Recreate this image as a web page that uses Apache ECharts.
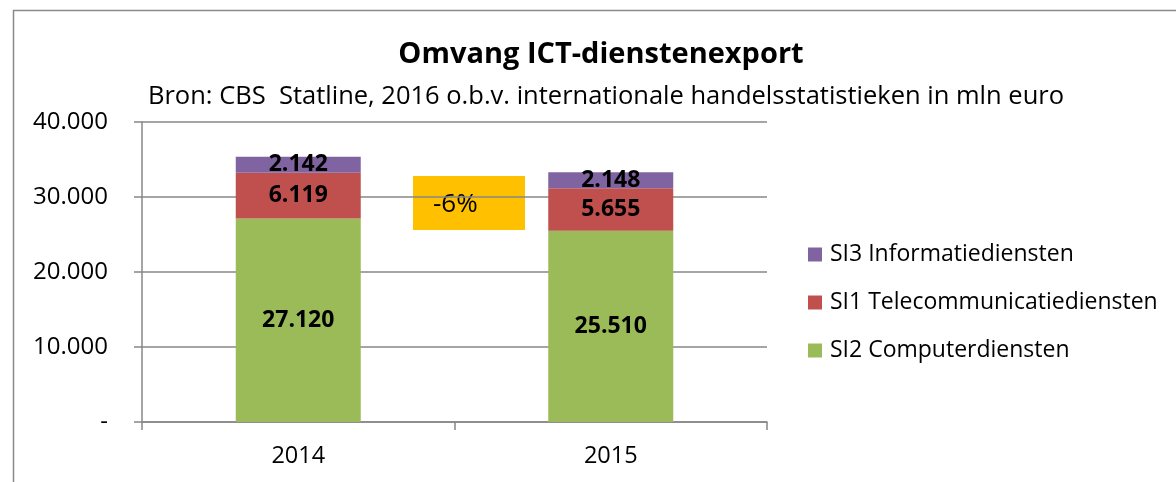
<!DOCTYPE html>
<html>
<head>
<meta charset="utf-8">
<script src="https://cdn.jsdelivr.net/npm/echarts@6/dist/echarts.min.js"></script>
<style>
  html, body { margin: 0; padding: 0; background: #fff; overflow: hidden; }
  #chart { width: 1176px; height: 482px; }
</style>
</head>
<body>
<div id="chart"></div>
<script>
// data (mln euro)
const years = ['2014', '2015'];
const computerdiensten = [27120, 25510];
const telecomdiensten = [6119, 5655];
const informatiediensten = [2142, 2148];
const yTicks = [0, 10000, 20000, 30000, 40000];
const changeLabel = '-6%';

const fontFam = '"Open Sans", Lato, sans-serif';

// 27120 -> 27.120
const fmt = (v) => v === 0 ? '-' : String(v).replace(/\B(?=(\d{3})+(?!\d))/g, '.');

const chart = echarts.init(document.getElementById('chart'));

const barLabel = {
  show: true,
  position: 'inside',
  color: '#000',
  fontWeight: 'bold',
  fontSize: 23,
  fontFamily: fontFam,
  formatter: (p) => fmt(p.value)
};

const option = {
  animation: false,
  textStyle: { fontFamily: fontFam },
  title: [
    {
      text: 'Omvang ICT-dienstenexport',
      left: 596,
      textAlign: 'center',
      top: 35,
      textStyle: { fontSize: 29, fontWeight: 'bold', color: '#000', fontFamily: fontFam }
    },
    {
      text: 'Bron: CBS  Statline, 2016 o.b.v. internationale handelsstatistieken in mln euro',
      left: 601,
      textAlign: 'center',
      top: 79,
      textStyle: { fontSize: 25.5, fontWeight: 'normal', color: '#000', fontFamily: fontFam }
    }
  ],
  legend: {
    orient: 'vertical',
    left: 803,
    top: 238,
    itemWidth: 14,
    itemHeight: 14,
    itemGap: 25,
    icon: 'rect',
    data: ['SI3 Informatiediensten', 'SI1 Telecommunicatiediensten', 'SI2 Computerdiensten'],
    textStyle: { fontSize: 23, color: '#000', fontFamily: fontFam, padding: [0, 0, 0, 3] }
  },
  grid: { left: 142, right: 409, top: 122, bottom: 60 },
  xAxis: {
    type: 'category',
    data: years,
    axisLine: { lineStyle: { color: '#878787', width: 1.5 } },
    axisTick: { show: true, length: 8, lineStyle: { color: '#878787', width: 1.5 } },
    axisLabel: { fontSize: 23.5, color: '#000', margin: 22, fontFamily: fontFam }
  },
  yAxis: {
    type: 'value',
    min: yTicks[0],
    max: yTicks[yTicks.length - 1],
    interval: yTicks[1] - yTicks[0],
    axisLine: { show: true, lineStyle: { color: '#878787', width: 1.5 } },
    axisTick: { show: true, length: 8, lineStyle: { color: '#878787', width: 1.5 } },
    splitLine: { lineStyle: { color: '#878787', width: 1.5 } },
    axisLabel: { fontSize: 24, color: '#000', margin: 34, fontFamily: fontFam, formatter: fmt }
  },
  series: [
    {
      name: 'SI2 Computerdiensten',
      type: 'bar',
      stack: 'tot',
      barWidth: '40%',
      data: computerdiensten,
      itemStyle: { color: '#9BBB59' },
      label: barLabel
    },
    {
      name: 'SI1 Telecommunicatiediensten',
      type: 'bar',
      stack: 'tot',
      data: telecomdiensten,
      itemStyle: { color: '#C0504D' },
      label: barLabel
    },
    {
      name: 'SI3 Informatiediensten',
      type: 'bar',
      stack: 'tot',
      data: informatiediensten,
      itemStyle: { color: '#8064A2' },
      label: barLabel
    }
  ],
  graphic: [
    {
      type: 'rect',
      silent: true,
      shape: { x: 13.5, y: 10.5, width: 1300, height: 600 },
      style: { fill: 'none', stroke: '#8a8a8a', lineWidth: 1.5 }
    },
    {
      type: 'group',
      left: 413,
      top: 176,
      children: [
        { type: 'rect', shape: { x: 0, y: 0, width: 112, height: 54 }, style: { fill: '#FFC000' } },
        {
          type: 'text',
          x: 20,
          y: 29,
          style: { text: changeLabel, fontSize: 26, fill: '#000', fontFamily: fontFam, verticalAlign: 'middle' }
        }
      ]
    }
  ]
};

chart.setOption(option);
window.addEventListener('resize', () => chart.resize());
</script>
</body>
</html>
